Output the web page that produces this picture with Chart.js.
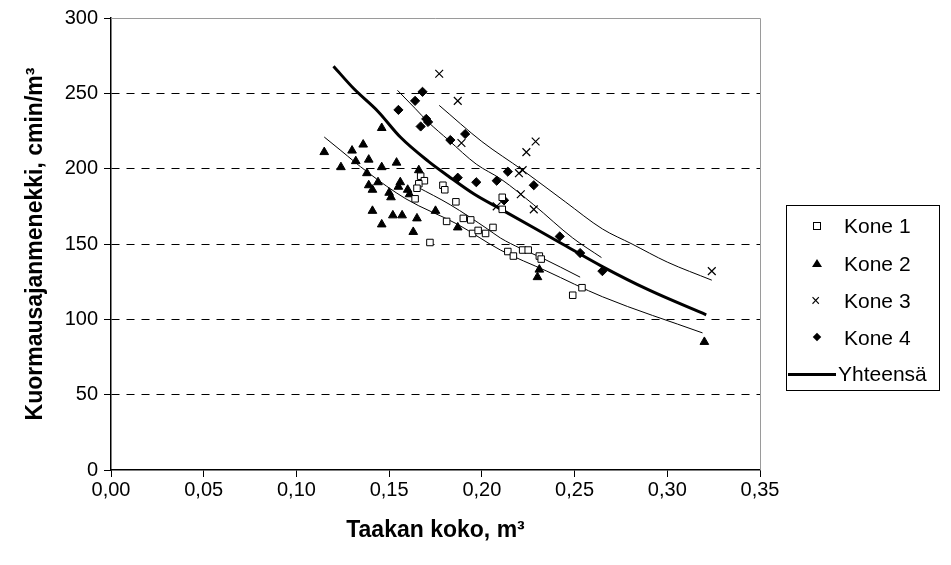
<!DOCTYPE html>
<html lang="fi">
<head>
<meta charset="utf-8">
<title>Kuormausajanmenekki</title>
<script src="https://cdn.jsdelivr.net/npm/chart.js@4.4.1/dist/chart.umd.min.js"></script>
<style>
  html, body { margin: 0; padding: 0; background: #fff; }
  #wrap { position: relative; width: 951px; height: 565px; }
  #legend {
    position: absolute; left: 786px; top: 205px; width: 154px; height: 186px;
    border: 1px solid #000; box-sizing: border-box;
    font: 21px "Liberation Sans", Arial, sans-serif; color: #000;
  }
  #legend .row { position: absolute; left: 0; height: 24px; line-height: 24px; }
  #legend .txt { position: absolute; left: 57px; white-space: nowrap; }
  #legend .mk { position: absolute; }
</style>
</head>
<body>
<div id="wrap">
  <canvas id="c" width="951" height="565"></canvas>
  <div id="legend"></div>
</div>
<script>
'use strict';

// Havainnot koneittain (x = taakan koko m3, y = cmin/m3)
const kone1X = [0.167, 0.169, 0.166, 0.165, 0.164, 0.172, 0.179, 0.180, 0.186, 0.181, 0.190, 0.194, 0.195,
                0.198, 0.202, 0.206, 0.211, 0.211, 0.214, 0.217, 0.222, 0.225, 0.231, 0.232, 0.254, 0.249];
const kone1Y = [195, 192, 190, 187, 180, 151, 189, 186, 178, 165, 167, 166, 157,
                159, 157, 161, 181, 173, 145, 142, 146, 146, 142, 140, 121, 116];

const kone2X = [0.146, 0.136, 0.130, 0.115, 0.132, 0.139, 0.124, 0.146, 0.154, 0.166, 0.138, 0.139, 0.141,
                0.144, 0.156, 0.155, 0.150, 0.151, 0.160, 0.161, 0.141, 0.146, 0.152, 0.157, 0.165, 0.163,
                0.175, 0.187, 0.231, 0.230, 0.320];
const kone2Y = [227, 216, 212, 211, 205, 206, 201, 201, 204, 199, 197, 189, 186,
                191, 191, 188, 184, 181, 186, 183, 172, 163, 169, 169, 167, 158,
                172, 161, 133, 128, 85];

const kone3X = [0.177, 0.187, 0.189, 0.229, 0.224, 0.220, 0.222, 0.221, 0.228, 0.208, 0.324];
const kone3Y = [263, 245, 217, 218, 211, 197, 199, 183, 173, 175, 132];

const kone4X = [0.168, 0.164, 0.155, 0.170, 0.171, 0.167, 0.191, 0.183, 0.187, 0.197, 0.208, 0.214,
                0.212, 0.228, 0.242, 0.253, 0.265];
const kone4Y = [251, 245, 239, 233, 231, 228, 223, 219, 194, 191, 192, 198,
                179, 189, 155, 144, 132];

// Sovitetut käyrät, luettu kuvasta
const kayra1X = [0.165, 0.183, 0.203, 0.210, 0.221, 0.232, 0.253];
const kayra1Y = [188, 176, 160, 154, 147, 141, 128];
const kayra2X = [0.115, 0.124, 0.138, 0.159, 0.187, 0.210, 0.235, 0.265, 0.319];
const kayra2Y = [221, 212, 198, 180, 163, 146, 132, 115, 91];
const kayra3X = [0.177, 0.200, 0.222, 0.245, 0.265, 0.281, 0.300, 0.324];
const kayra3Y = [242, 218, 199, 178, 160, 150, 138, 126];
const kayra4X = [0.1545, 0.164, 0.171, 0.182, 0.197, 0.2104, 0.228, 0.249, 0.2645];
const kayra4Y = [252, 240, 231, 219, 203, 193, 176, 154, 141];
const yhtX = [0.120, 0.131, 0.144, 0.156, 0.171, 0.182, 0.196, 0.2104, 0.242, 0.265, 0.290, 0.321];
const yhtY = [268, 253, 238, 221, 205, 195, 183, 173, 151, 135, 119.5, 103];

const xTicks = [0, 0.05, 0.10, 0.15, 0.20, 0.25, 0.30, 0.35];
const yTicks = [0, 50, 100, 150, 200, 250, 300];

const FONT = '"Liberation Sans", Arial, sans-serif';

const pts = (xs, ys) => xs.map((x, i) => ({ x, y: ys[i] }));

function curve(xs, ys, width) {
  return {
    data: pts(xs, ys),
    showLine: true,
    borderColor: '#000',
    borderWidth: width,
    pointRadius: 0,
    tension: 0.4,
    cubicInterpolationMode: 'monotone',
  };
}

// harmaa kehys ylä- ja oikealle reunalle
const framePlugin = {
  id: 'frame',
  afterDraw(chart) {
    const { ctx, chartArea: { left, top, right, bottom } } = chart;
    ctx.save();
    ctx.strokeStyle = '#9a9a9a';
    ctx.lineWidth = 1;
    ctx.beginPath();
    ctx.moveTo(left, top + 0.5);
    ctx.lineTo(right + 0.5, top + 0.5);
    ctx.lineTo(right + 0.5, bottom);
    ctx.stroke();
    ctx.restore();
  },
};

new Chart(document.getElementById('c'), {
  type: 'scatter',
  plugins: [framePlugin],
  data: {
    datasets: [
      { label: 'Kone 1', data: pts(kone1X, kone1Y), pointStyle: 'rect', pointRadius: 4.6,
        backgroundColor: '#fff', borderColor: '#000', borderWidth: 1 },
      { label: 'Kone 2', data: pts(kone2X, kone2Y), pointStyle: 'triangle', pointRadius: 5,
        backgroundColor: '#000', borderColor: '#000', borderWidth: 1 },
      { label: 'Kone 3', data: pts(kone3X, kone3Y), pointStyle: 'crossRot', pointRadius: 5.5,
        backgroundColor: '#000', borderColor: '#000', borderWidth: 1.2 },
      { label: 'Kone 4', data: pts(kone4X, kone4Y), pointStyle: 'rectRot', pointRadius: 4.6,
        backgroundColor: '#000', borderColor: '#000', borderWidth: 1 },
      Object.assign({ label: 'Yhteensä' }, curve(yhtX, yhtY, 3)),
      curve(kayra1X, kayra1Y, 1),
      curve(kayra2X, kayra2Y, 1),
      curve(kayra3X, kayra3Y, 1),
      curve(kayra4X, kayra4Y, 1),
    ],
  },
  options: {
    responsive: false,
    animation: false,
    layout: { padding: { left: 0, top: 14, right: 191, bottom: 0 } },
    plugins: { legend: { display: false }, tooltip: { enabled: false } },
    scales: {
      x: {
        type: 'linear',
        min: 0, max: 0.35,
        afterBuildTicks(scale) { scale.ticks = xTicks.map(v => ({ value: v })); },
        afterFit(scale) { scale.height = 95; },
        ticks: {
          color: '#000', font: { family: FONT, size: 20 }, padding: 1,
          callback: v => v.toFixed(2).replace('.', ','),
        },
        grid: { drawOnChartArea: false, drawTicks: true, tickLength: 7, tickColor: '#000' },
        border: { color: '#000', width: 1.5 },
        title: {
          display: true, text: 'Taakan koko, m³', color: '#000',
          font: { family: FONT, size: 23, weight: 'bold' },
          padding: { top: 0, bottom: 21 },
        },
      },
      y: {
        type: 'linear',
        min: 0, max: 300,
        afterBuildTicks(scale) { scale.ticks = yTicks.map(v => ({ value: v })); },
        afterFit(scale) { scale.width = 111; },
        ticks: { color: '#000', font: { family: FONT, size: 20 }, padding: 6 },
        grid: {
          color: ctx => (ctx.tick && ctx.tick.value > 0 && ctx.tick.value < 300) ? '#000' : 'rgba(0,0,0,0)',
          lineWidth: 1,
          drawTicks: true, tickLength: 7, tickColor: '#000', tickBorderDash: [],
        },
        border: { color: '#000', width: 1.5, dash: [8, 7] },
        title: {
          display: true, text: 'Kuormausajanmenekki, cmin/m³', color: '#000',
          font: { family: FONT, size: 23, weight: 'bold' },
          padding: { top: 22, bottom: 0 },
        },
      },
    },
  },
});

// Selite (HTML), merkit piirretään CSS:llä
const legendRows = [
  { label: 'Kone 1', mk: '<span class="mk" style="left:26px;top:8px;width:6px;height:6px;border:1px solid #000;"></span>' },
  { label: 'Kone 2', mk: '<span class="mk" style="left:25px;top:7px;width:0;height:0;border-left:5px solid transparent;border-right:5px solid transparent;border-bottom:8px solid #000;"></span>' },
  { label: 'Kone 3', mk: '<span class="mk" style="left:24px;top:0;font-size:16px;">×</span>' },
  { label: 'Kone 4', mk: '<span class="mk" style="left:27px;top:8px;width:6px;height:6px;background:#000;transform:rotate(45deg);"></span>' },
  { label: 'Yhteensä', mk: '<span class="mk" style="left:1px;top:11px;width:48px;height:3px;background:#000;"></span>', txtLeft: 51 },
];
const legendTops = [8, 46, 83, 120, 156];
document.getElementById('legend').innerHTML = legendRows.map((r, i) =>
  `<div class="row" style="top:${legendTops[i]}px;width:150px;">${r.mk}` +
  `<span class="txt" style="left:${r.txtLeft || 57}px">${r.label}</span></div>`
).join('');
</script>
</body>
</html>
